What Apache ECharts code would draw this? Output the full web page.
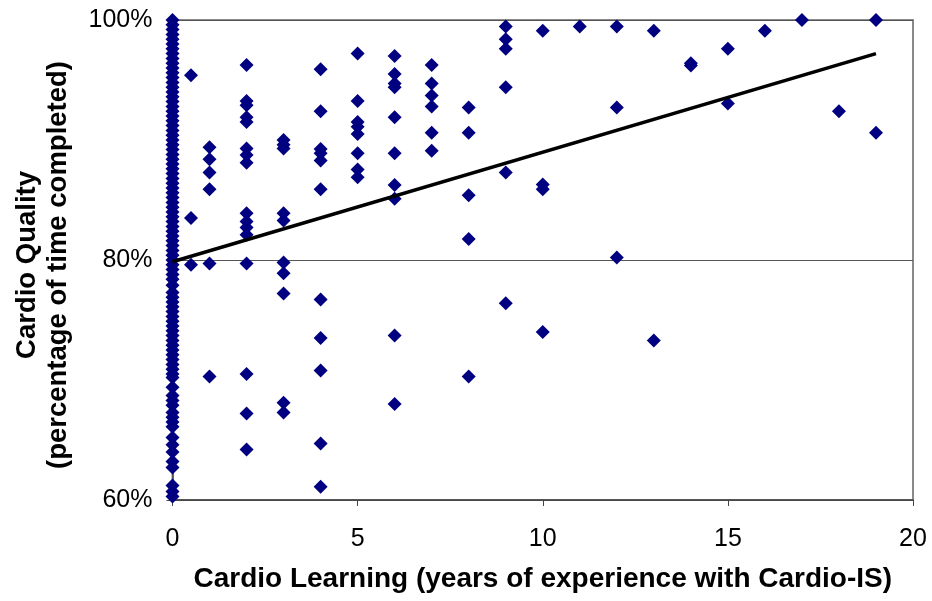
<!DOCTYPE html>
<html>
<head>
<meta charset="utf-8">
<script src="https://cdn.jsdelivr.net/npm/echarts@6/dist/echarts.min.js"></script>
<style>
html,body{margin:0;padding:0;background:#fff;}
#chart{width:932px;height:601px;}
</style>
</head>
<body>
<div id="chart"></div>
<script>
// Years of experience (x) and cardio quality in percent (y)
const years0 = [0];
const quality0 = [100, 99.6, 99.2, 98.8, 98.4, 98.0, 97.6, 97.2, 96.8, 96.4, 96.0, 95.6, 95.2, 94.8, 94.4, 94.0, 93.6, 93.2, 92.8, 92.4, 92.0, 91.6, 91.2, 90.8, 90.4, 90.0, 89.6, 89.2, 88.8, 88.4, 88.0, 87.6, 87.2, 86.8, 86.4, 86.0, 85.6, 85.2, 84.8, 84.4, 84.0, 83.6, 83.2, 82.8, 82.4, 82.0, 81.6, 81.2, 80.8, 80.4, 80.0, 79.6, 79.2, 78.8, 78.4, 77.9, 77.3, 76.9, 76.5, 76.1, 75.7, 75.3, 74.9, 74.5, 74.1, 73.7, 73.3, 72.9, 72.5, 72.1, 71.7, 71.3, 70.9, 70.5, 70.2, 69.4, 68.7, 68.3, 67.9, 67.3, 66.9, 66.5, 66.1, 65.2, 64.6, 64.0, 63.2, 62.7, 61.2, 60.7, 60.3];

const otherYears =   [0.5, 0.5, 0.5,
  1, 1, 1, 1, 1, 1,
  2, 2, 2, 2, 2, 2, 2, 2, 2, 2, 2, 2, 2, 2, 2, 2,
  3, 3, 3, 3, 3, 3, 3, 3, 3, 3,
  4, 4, 4, 4, 4, 4, 4, 4, 4, 4, 4,
  5, 5, 5, 5, 5, 5, 5, 5,
  6, 6, 6, 6, 6, 6, 6, 6, 6, 6,
  7, 7, 7, 7, 7, 7,
  8, 8, 8, 8, 8,
  9, 9, 9, 9, 9, 9,
  10, 10, 10, 10,
  11,
  12, 12, 12,
  13, 13,
  14, 14,
  15, 15,
  16,
  17,
  18,
  19, 19];
const otherQuality = [95.4, 83.5, 79.6,
  89.4, 88.4, 87.3, 85.9, 79.7, 70.3,
  96.25, 93.25, 92.9, 91.9, 91.5, 89.3, 88.75, 88.1, 83.9, 83.2, 82.7, 82.1, 79.7, 70.5, 67.2, 64.2,
  90.0, 89.6, 89.3, 83.9, 83.3, 79.8, 78.9, 77.2, 68.1, 67.3,
  95.9, 92.4, 89.25, 88.9, 88.3, 85.9, 76.7, 73.5, 70.8, 64.7, 61.1,
  97.2, 93.25, 91.5, 91.1, 90.5, 88.9, 87.55, 86.9,
  97.0, 95.5, 94.7, 94.4, 91.9, 88.9, 86.25, 85.1, 73.7, 68.0,
  96.25, 94.7, 93.7, 92.8, 90.6, 89.1,
  92.7, 90.6, 85.4, 81.75, 70.3,
  99.45, 98.4, 97.6, 94.4, 87.3, 76.4,
  99.1, 86.3, 85.9, 74.0,
  99.45,
  99.45, 92.7, 80.2,
  99.1, 73.3,
  96.4, 96.2,
  97.6, 93.05,
  99.1,
  100,
  92.4,
  100, 90.6];

// Trend line end points (x, y%)
const trendX = [0, 19];
const trendY = [79.85, 97.2];

const xTicks = [0, 5, 10, 15, 20];
const yTicks = [60, 80, 100];

const points = quality0.map(q => [years0[0], q])
  .concat(otherYears.map((x, i) => [x, otherQuality[i]]));
const trend = trendX.map((x, i) => [x, trendY[i]]);

const chart = echarts.init(document.getElementById('chart'), null, {renderer: 'canvas'});
const FONT = 'Liberation Sans, Arial, sans-serif';
chart.setOption({
  animation: false,
  backgroundColor: '#ffffff',
  grid: {left: 172.5, right: 19, top: 20, bottom: 101, show: true, borderColor: '#8a8a8a', borderWidth: 2,
         backgroundColor: 'transparent', containLabel: false, outerBoundsMode: 'none'},
  xAxis: {
    type: 'value', min: xTicks[0], max: xTicks[xTicks.length - 1], interval: 5,
    axisLine: {show: true, lineStyle: {color: '#444', width: 1.5}},
    axisTick: {show: true, inside: false, length: 6, lineStyle: {color: '#444'}},
    splitLine: {show: false},
    axisLabel: {color: '#000', fontFamily: FONT, fontSize: 25, margin: 27},
    name: 'Cardio Learning (years of experience with Cardio-IS)',
    nameLocation: 'middle', nameGap: 65,
    nameTextStyle: {color: '#000', fontFamily: FONT, fontSize: 28, fontWeight: 'bold'}
  },
  yAxis: {
    type: 'value', min: yTicks[0], max: yTicks[yTicks.length - 1], interval: 20,
    axisLine: {show: true, lineStyle: {color: '#444', width: 1.5}},
    axisTick: {show: true, inside: false, length: 6, lineStyle: {color: '#444'}},
    splitLine: {show: true, lineStyle: {color: '#555', width: 1.2}},
    axisLabel: {color: '#000', fontFamily: FONT, fontSize: 25, margin: 20, formatter: v => v + '%'},
    name: 'Cardio Quality\n(percentage of time completed)',
    nameLocation: 'middle', nameRotate: 90, nameGap: 99,
    nameTextStyle: {color: '#000', fontFamily: FONT, fontSize: 27.5, fontWeight: 'bold', lineHeight: 31, align: 'center', padding: [0, 10, 0, 0]}
  },
  series: [
    {
      type: 'scatter', data: points, symbol: 'diamond', symbolSize: 14,
      itemStyle: {color: '#000080', opacity: 1}, z: 3
    },
    {
      type: 'line', data: trend, symbol: 'none', showSymbol: false,
      lineStyle: {color: '#000', width: 3.5}, z: 4
    }
  ]
});
</script>
</body>
</html>
